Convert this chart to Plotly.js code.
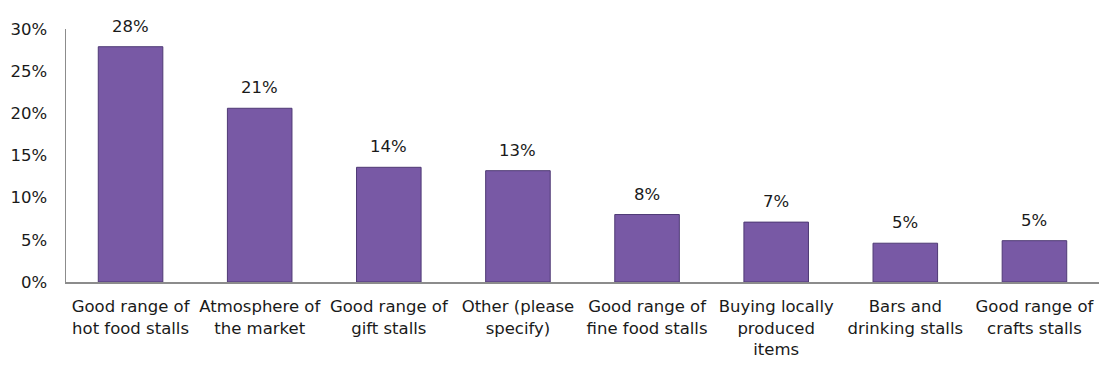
<!DOCTYPE html>
<html>
<head>
<meta charset="utf-8">
<script src="https://cdn.plot.ly/plotly-3.0.1.min.js"></script>
<style>html,body{margin:0;padding:0;background:#fff;}#chart{width:1099px;height:370px;}</style>
</head>
<body>
<div id="chart"></div>
<script>
var categories = [
  "Good range of<br>hot food stalls",
  "Atmosphere of<br>the market",
  "Good range of<br>gift stalls",
  "Other (please<br>specify)",
  "Good range of<br>fine food stalls",
  "Buying locally<br>produced<br>items",
  "Bars and<br>drinking stalls",
  "Good range of<br>crafts stalls"
];
var values = [0.279, 0.206, 0.136, 0.132, 0.080, 0.071, 0.046, 0.049];
var yTickVals = [0, 0.05, 0.10, 0.15, 0.20, 0.25, 0.30];

var FONT = "DejaVu Sans, Lato, sans-serif";
var FS = 16.5;

var trace = {
  type: "bar",
  x: categories,
  y: values,
  marker: {color: "#7859a5", line: {color: "#4f3a75", width: 1}},
  hoverinfo: "none"
};

var annotations = values.map(function (v, i) {
  return {
    x: categories[i], y: v, xref: "x", yref: "y",
    text: Math.round(v * 100) + "%",
    showarrow: false, yanchor: "bottom", yshift: 9,
    font: {family: FONT, size: FS, color: "#1a1a1a"}
  };
});

var layout = {
  width: 1099, height: 370,
  margin: {l: 66, r: 0, t: 29, b: 88},
  paper_bgcolor: "#ffffff", plot_bgcolor: "#ffffff",
  showlegend: false,
  bargap: 0.5,
  font: {family: FONT, size: FS, color: "#1a1a1a"},
  xaxis: {
    type: "category",
    range: [-0.5, 7.5],
    showline: true, linecolor: "#8c8c8c", linewidth: 1.5,
    showgrid: false, zeroline: false, ticks: "",
    ticklabelstandoff: 9,
    tickfont: {family: FONT, size: FS, color: "#1a1a1a"}
  },
  yaxis: {
    range: [0, 0.30],
    tickvals: yTickVals,
    tickformat: ".0%",
    showline: true, linecolor: "#8c8c8c", linewidth: 1.5,
    showgrid: false, zeroline: false, ticks: "",
    ticklabelstandoff: 14,
    tickfont: {family: FONT, size: FS, color: "#1a1a1a"}
  },
  annotations: annotations
};

Plotly.newPlot("chart", [trace], layout, {displayModeBar: false, staticPlot: true});
</script>
</body>
</html>
